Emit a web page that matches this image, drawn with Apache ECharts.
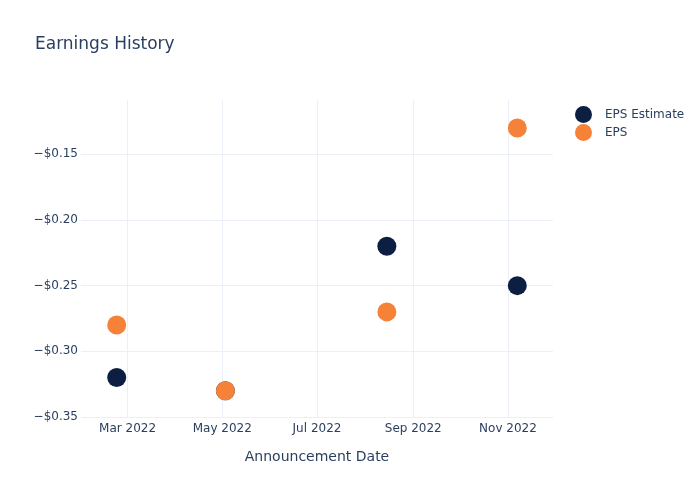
<!DOCTYPE html>
<html><head><meta charset="utf-8">
<script src="https://cdn.jsdelivr.net/npm/echarts@6/dist/echarts.min.js"></script>
<style>html,body{margin:0;padding:0;background:#fff}#c{width:700px;height:500px}</style>
</head><body><div id="c"></div>
<script>
const dates = ['2022-02-22', '2022-05-03', '2022-08-15', '2022-11-07'];
const epsEstimate = [-0.32, -0.33, -0.22, -0.25];
const eps = [-0.28, -0.33, -0.27, -0.13];
const xTicks = ['2022-03-01', '2022-05-01', '2022-07-01', '2022-09-01', '2022-11-01'];
const yTicks = [-0.35, -0.30, -0.25, -0.20, -0.15];
const months = ['Jan','Feb','Mar','Apr','May','Jun','Jul','Aug','Sep','Oct','Nov','Dec'];

const ts = s => { const [y,m,d] = s.split('-').map(Number); return Date.UTC(y, m-1, d); };
const font = 'DejaVu Sans';
const txt = '#2a3f5f';
const chart = echarts.init(document.getElementById('c'), null, {renderer:'canvas'});
chart.setOption({
  animation: false,
  backgroundColor: '#fff',
  textStyle: {fontFamily: font},
  title: {text: 'Earnings History', left: 30, top: 31, textStyle: {fontFamily: font, fontSize: 17, fontWeight: 'normal', color: txt}},
  legend: {orient: 'vertical', left: 570, top: 101, itemWidth: 17, itemHeight: 17, itemGap: 1, icon: 'circle',
    textStyle: {fontFamily: font, fontSize: 12, color: txt, padding: [0, 0, 0, 8]}, data: ['EPS Estimate', 'EPS']},
  grid: {left: 81, right: 147, top: 100, bottom: 83, containLabel: false},
  xAxis: {
    type: 'value', min: ts('2022-01-30'), max: ts('2022-11-30'), scale: true,
    name: 'Announcement Date', nameLocation: 'middle', nameGap: 33,
    nameTextStyle: {fontFamily: font, fontSize: 14, color: txt},
    axisLine: {show: false}, axisTick: {show: false, customValues: xTicks.map(ts)},
    axisLabel: {customValues: xTicks.map(ts), color: txt, fontFamily: font, fontSize: 12, margin: 6,
      formatter: v => { const d = new Date(v); return months[d.getUTCMonth()] + ' ' + d.getUTCFullYear(); }},
    splitLine: {show: true, lineStyle: {color: '#ebf0f8', width: 1}}
  },
  yAxis: {
    type: 'value', min: -0.35, max: -0.1087, interval: 0.05,
    axisLine: {show: false}, axisTick: {show: false},
    axisLabel: {color: txt, fontFamily: font, fontSize: 12, margin: 3, showMaxLabel: false,
      formatter: v => { const r = Math.round(v*100)/100; if (!yTicks.some(t => Math.abs(t - r) < 1e-9) || Math.abs(v - r) > 1e-6) return ''; return '\u2212$' + Math.abs(r).toFixed(2); }},
    splitLine: {show: true, showMaxLine: false, lineStyle: {color: '#ebf0f8', width: 1}}
  },
  series: [
    {name: 'EPS Estimate', type: 'scatter', symbolSize: 19, itemStyle: {color: '#0c1e41', opacity: 1},
      data: dates.map((d,i) => [ts(d), epsEstimate[i]])},
    {name: 'EPS', type: 'scatter', symbolSize: 19, itemStyle: {color: '#f6823a', opacity: 1},
      data: dates.map((d,i) => [ts(d), eps[i]])}
  ]
});
</script></body></html>
